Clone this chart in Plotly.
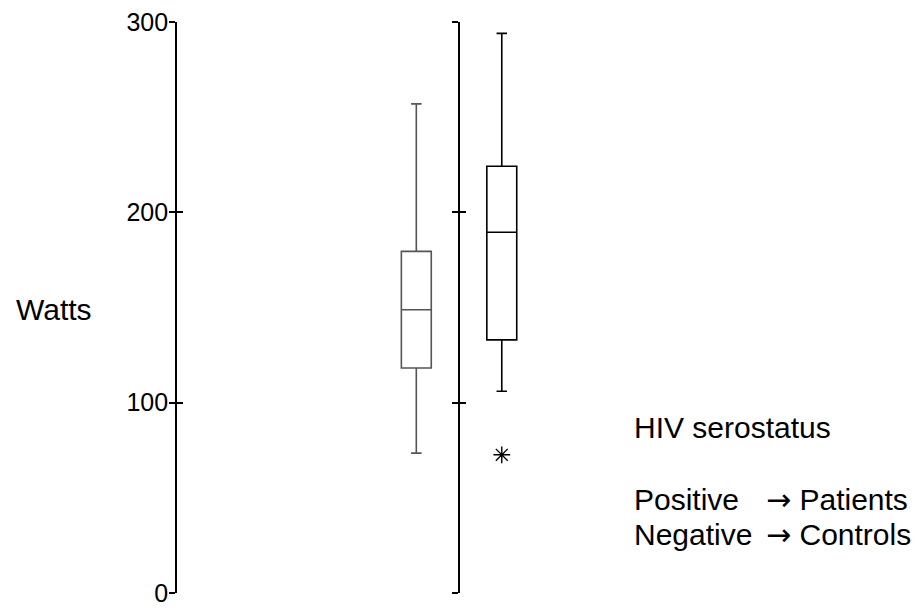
import plotly.graph_objects as go

# ---- data ----
groups = ["Positive", "Negative"]
lower_whisker = [73.5, 106.0]
q1_vals = [118.2, 133.0]
median_vals = [148.8, 189.5]
q3_vals = [179.5, 224.2]
upper_whisker = [257.0, 294.0]
outlier_group = ["Negative"]
outlier_vals = [72.6]
y_ticks = [0, 100, 200, 300]
y_ticklabels = ["0", "100", "200", "300"]
box_colors = ["#555555", "#000000"]

fig = go.Figure()
for i, g in enumerate(groups):
    fig.add_trace(go.Box(
        x=[g], q1=[q1_vals[i]], median=[median_vals[i]], q3=[q3_vals[i]],
        lowerfence=[lower_whisker[i]], upperfence=[upper_whisker[i]],
        width=0.35, whiskerwidth=0.35,
        fillcolor="rgba(0,0,0,0)",
        line=dict(color=box_colors[i], width=1.6),
        boxpoints=False, showlegend=False, hoverinfo="skip",
    ))

fig.add_trace(go.Scatter(
    x=outlier_group, y=outlier_vals, mode="markers",
    marker=dict(symbol="asterisk-open", size=14, color="black",
                line=dict(color="black", width=1.4)),
    showlegend=False, hoverinfo="skip",
))

# empty traces to bind the extra axes
for ax in ["y2", "y3", "y4"]:
    fig.add_trace(go.Scatter(x=[], y=[], yaxis=ax, showlegend=False))

PLOT_L = 169  # left edge of plot area inside the figure (page adds 8px body margin)
PLOT_W = 916 - PLOT_L
mid_pos = (451 - PLOT_L) / PLOT_W
tickfont = dict(family="Arial", size=25, color="black")
common = dict(range=[0, 300], tickvals=y_ticks, showgrid=False, zeroline=False,
              showline=True, linecolor="black", linewidth=1.6,
              tickcolor="black", tickwidth=1.6, ticklen=6)

fig.update_layout(
    width=916, height=606,
    margin=dict(l=PLOT_L, r=0, t=14, b=21),
    paper_bgcolor="white", plot_bgcolor="white",
    xaxis=dict(type="category", categoryarray=groups, range=[-2.80, 5.94],
               showticklabels=False, showgrid=False, zeroline=False,
               showline=False, ticks=""),
    yaxis=dict(**common, ticks="outside", ticktext=y_ticklabels,
               tickfont=tickfont, ticklabeloverflow="allow",
               ticklabelstandoff=-4),
    yaxis3=dict(**common, ticks="inside", showticklabels=False,
                overlaying="y", anchor="x"),
    yaxis2=dict(**common, ticks="outside", showticklabels=False,
                overlaying="y", anchor="free", position=mid_pos),
    yaxis4=dict(**common, ticks="inside", showticklabels=False,
                overlaying="y", anchor="free", position=mid_pos),
    font=dict(family="Arial", color="black"),
)

txt = dict(family="Arial", size=30, color="black")
def px(xp):
    # xp is a page x position; convert to paper fraction
    return (xp - 8 - PLOT_L) / PLOT_W

arrow = '<span style="font-family:DejaVu Sans">→</span>'
fig.add_annotation(text="Watts", x=px(14), y=149, xref="paper", yref="y",
                   xanchor="left", yanchor="middle", showarrow=False, font=txt)
fig.add_annotation(text="HIV serostatus", x=px(632), y=87, xref="paper", yref="y",
                   xanchor="left", yanchor="middle", showarrow=False, font=txt)
fig.add_annotation(text="Positive", x=px(632), y=49, xref="paper", yref="y",
                   xanchor="left", yanchor="middle", showarrow=False, font=txt)
fig.add_annotation(text="Negative", x=px(632), y=30.5, xref="paper", yref="y",
                   xanchor="left", yanchor="middle", showarrow=False, font=txt)
fig.add_annotation(text=arrow + " Patients", x=px(764), y=49, xref="paper", yref="y",
                   xanchor="left", yanchor="middle", showarrow=False, font=txt)
fig.add_annotation(text=arrow + " Controls", x=px(764), y=30.5, xref="paper", yref="y",
                   xanchor="left", yanchor="middle", showarrow=False, font=txt)

fig.write_html("out.html")
